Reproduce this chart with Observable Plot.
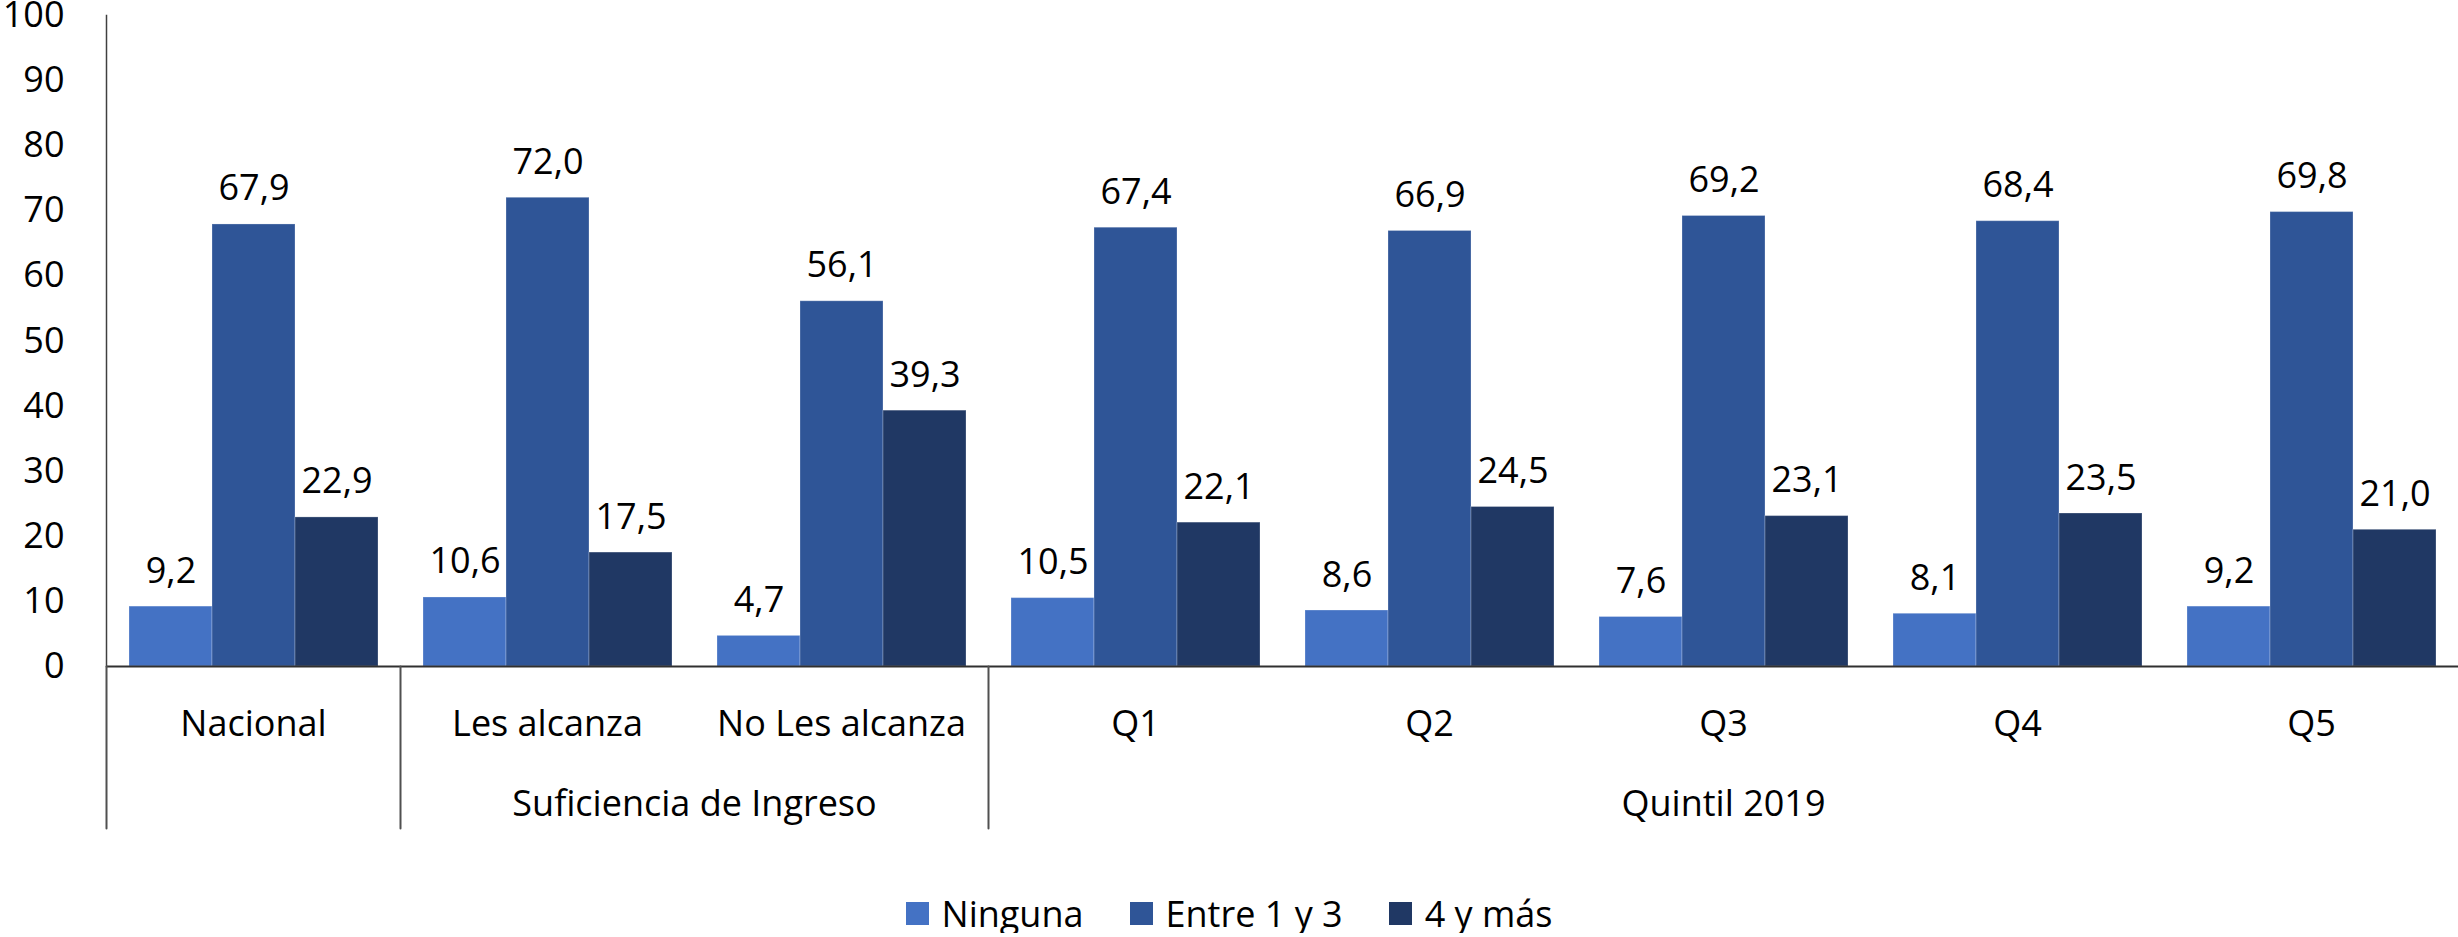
<!DOCTYPE html>
<html>
<head>
<meta charset="utf-8">
<script src="https://cdn.jsdelivr.net/npm/d3@7"></script>
<script src="https://cdn.jsdelivr.net/npm/@observablehq/plot@0.6"></script>
<style>
  body { margin: 0; background: #fff; font-family: "Open Sans", sans-serif; }
  #chart svg { display: block; }
  #legend { display: flex; justify-content: center; align-items: center; height: 40px; margin-top: 43px; font-size: 36px; color: #000; }
  .item { display: flex; align-items: center; margin: 0 23px; }
  .sw { width: 23px; height: 23px; margin-right: 13px; }
</style>
</head>
<body>
<div id="chart"></div>
<div id="legend"></div>
<script>
// ---- Data ----
const categories = ["Nacional", "Les alcanza", "No Les alcanza", "Q1", "Q2", "Q3", "Q4", "Q5"];
const groupOf = ["", "Suficiencia de Ingreso", "Suficiencia de Ingreso", "Quintil 2019", "Quintil 2019", "Quintil 2019", "Quintil 2019", "Quintil 2019"];
const series = ["Ninguna", "Entre 1 y 3", "4 y más"];
const ninguna = [9.2, 10.6, 4.7, 10.5, 8.6, 7.6, 8.1, 9.2];
const entre1y3 = [67.9, 72.0, 56.1, 67.4, 66.9, 69.2, 68.4, 69.8];
const cuatroYMas = [22.9, 17.5, 39.3, 22.1, 24.5, 23.1, 23.5, 21.0];
const colors = ["#4472C4", "#2F5597", "#203864"];
const yTicks = [0, 10, 20, 30, 40, 50, 60, 70, 80, 90, 100];

// ---- Derived tables ----
const valuesBySeries = [ninguna, entre1y3, cuatroYMas];
const table = [];
categories.forEach((c, i) => series.forEach((s, j) => table.push({cat: c, serie: s, value: valuesBySeries[j][i]})));

// groups: consecutive categories sharing a group label
const groups = [];
categories.forEach((c, i) => {
  const g = groupOf[i];
  if (groups.length && groups[groups.length - 1].label === g && g !== "") groups[groups.length - 1].members.push(c);
  else groups.push({label: g, members: [c]});
});
const groupStarts = groups.map(g => g.members[0]);
const labelsEven = groups.filter(g => g.label && g.members.length % 2 === 0)
  .map(g => ({cat: g.members[g.members.length / 2 - 1], label: g.label}));
const labelsOdd = groups.filter(g => g.label && g.members.length % 2 === 1)
  .map(g => ({cat: g.members[(g.members.length - 1) / 2], label: g.label}));

const fmt = v => v.toFixed(1).replace(".", ",");
const lineShape = {draw(context, l) { context.moveTo(0, 0); context.lineTo(0, -l); }};

const chart = Plot.plot({
  width: 2458,
  height: 850,
  marginTop: 15,
  marginLeft: 105,
  marginRight: 0,
  marginBottom: 184,
  style: {fontFamily: "'Open Sans', sans-serif", fontSize: "36px", color: "#000", background: "#fff", overflow: "visible"},
  fx: {domain: categories, padding: 0, axis: null},
  x: {domain: series, paddingInner: 0, paddingOuter: 0.256, axis: null},
  y: {domain: [0, 100], axis: null},
  color: {domain: series, range: colors},
  marks: [
    Plot.barY(table, {fx: "cat", x: "serie", y: "value", fill: "serie", inset: 0, stroke: "#ffffff", strokeOpacity: 0.25, strokeWidth: 1}),
    Plot.text(table, {fx: "cat", x: "serie", y: "value", text: d => fmt(d.value), lineAnchor: "bottom", dy: -24, fill: "#000"}),
    Plot.ruleY([0], {stroke: "#303030", strokeWidth: 2}),
    Plot.frame({anchor: "left", fx: [categories[0]], stroke: "#404040", strokeWidth: 1.5}),
    Plot.axisY({ticks: yTicks, tickSize: 0, tickPadding: 42, tickFormat: d => String(d), label: null, fill: "#000"}),
    Plot.vector(groupStarts, {fx: d => d, frameAnchor: "bottom-left", anchor: "start", rotate: 180, length: 162, shape: lineShape, stroke: "#505050", strokeWidth: 2}),
    Plot.text(categories, {fx: d => d, text: d => d, frameAnchor: "bottom", lineAnchor: "bottom", dy: 69, fill: "#000"}),
    Plot.text(labelsEven, {fx: "cat", text: "label", frameAnchor: "bottom-right", textAnchor: "middle", lineAnchor: "bottom", dy: 149, fill: "#000"}),
    Plot.text(labelsOdd, {fx: "cat", text: "label", frameAnchor: "bottom", textAnchor: "middle", lineAnchor: "bottom", dy: 149, fill: "#000"})
  ]
});
document.getElementById("chart").appendChild(chart);

// ---- Legend ----
const legend = document.getElementById("legend");
series.forEach((s, i) => {
  const item = document.createElement("div");
  item.className = "item";
  const sw = document.createElement("div");
  sw.className = "sw";
  sw.style.background = colors[i];
  const t = document.createElement("span");
  t.textContent = s;
  item.appendChild(sw);
  item.appendChild(t);
  legend.appendChild(item);
});
</script>
</body>
</html>
